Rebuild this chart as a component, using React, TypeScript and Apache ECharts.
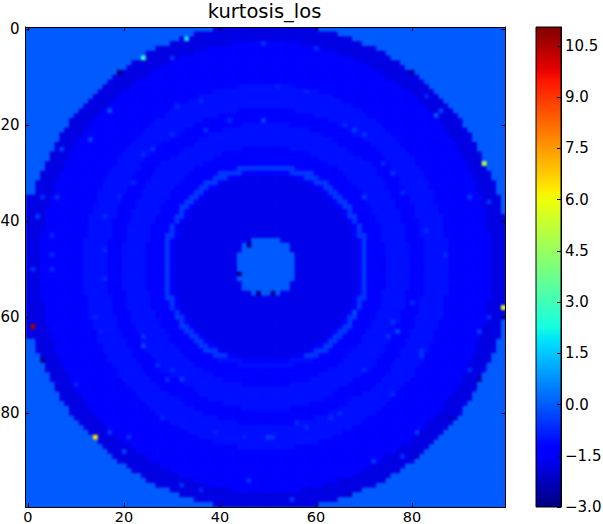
import React, { useEffect, useRef } from "react";
import * as echarts from "echarts";

const TITLE = "kurtosis_los";
const SIZE = 100;
const COLOR_MIN = -3;
const COLOR_MAX = 11.05;
const FONT = "DejaVu Sans";

// value of each letter in the rows below
const levels: Record<string, number> = { ".": 0, a: -1.8, b: -1.7, c: -1.35, d: -1.05, e: -0.5 };

// one run-length string per image row: letter + number of cells
const rows: string[] = [
  ".39a22.39", ".35a30.35", ".32a36.32", ".30a13c14a13.30", ".27a11c24a11.27",
  ".25a10c30a10.25", ".24a8c36a8.24", ".22a8c40a8.22", ".21a7c44a7.21", ".19a7c48a7.19",
  ".18a7c50a7.18", ".17a6c54a6.17", ".16a6c22d12c22a6.16", ".15a5c19d22c19a5.15", ".14a5c17d28c17a5.14",
  ".13a5c16d32c16a5.13", ".12a5c15d36c15a5.12", ".11a5c14d14c12d14c14a5.11", ".10a5c14d11c20d11c14a5.10", ".9a5c13d10c26d10c13a5.9",
  ".9a4c13d9c10d10c10d9c13a4.9", ".8a5c12d8c8d18c8d8c12a5.8", ".7a5c12d8c6d24c6d8c12a5.7", ".7a4c12d7c6d28c6d7c12a4.7", ".6a4c12d6c7d30c7d6c12a4.6",
  ".6a4c11d6c6d12c10d12c6d6c11a4.6", ".5a4c11d6c6d9c18d9c6d6c11a4.5", ".5a4c10d6c5d9c22d9c5d6c10a4.5", ".4a4c11d5c4d9c26d9c4d5c11a4.4", ".4a4c10d6c3d8c9e12c9d8c3d6c10a4.4",
  ".3a4c10d6c4d7c6e5c10e5c6d7c4d6c10a4.3", ".3a4c10d5c4d7c6e3c2b12c2e3c6d7c4d5c10a4.3", ".2a4c10d6c3d7c5e3c1b18c1e3c5d7c3d6c10a4.2", ".2a4c10d5c4d6c5e2c2b20c2e2c5d6c4d5c10a4.2", ".2a4c9d6c3d6c5e2c1b24c1e2c5d6c3d6c9a4.2",
  "a5c10d5c4d6c4e2c1b26c1e2c4d6c4d5c10a4.1", "a5c10d5c3d6c4e2c1b28c1e2c4d6c3d5c10a4.1", "a5c9d5c4d5c4e2c1b30c1e2c4d5c4d5c9a4.1", "a4c10d5c3d6c4e1c1b32c1e1c4d6c3d5c10a3.1", "a4c9d6c3d5c4e2c1b32c1e2c4d5c3d6c9a4",
  "a4c9d5c4d5c4e1c1b34c1e1c4d5c4d5c9a4", "a4c9d5c3d5c4e1c1b36c1e1c4d5c3d5c9a4", "a4c9d5c3d5c4e1c1b36c1e1c4d5c3d5c9a4", "a3c10d5c3d5c3e2c1b36c1e2c3d5c3d5c10a3", "a3c9d5c4d5c3e1c1b16.6b16c1e1c3d5c4d5c9a3",
  "a3c9d5c3d5c4e1c1b14.10b14c1e1c4d5c3d5c9a3", "a3c9d5c3d5c4e1c1b14.10b14c1e1c4d5c3d5c9a3", "a3c9d5c3d5c4e1c1b13.12b13c1e1c4d5c3d5c9a3", "a3c9d5c3d5c4e1c1b13.12b13c1e1c4d5c3d5c9a3", "a3c9d5c3d5c4e1c1b13.12b13c1e1c4d5c3d5c9a3",
  "a3c9d5c3d5c4e1c1b13.12b13c1e1c4d5c3d5c9a3", "a3c9d5c3d5c4e1c1b13.12b13c1e1c4d5c3d5c9a3", "a3c9d5c3d5c4e1c1b13.12b13c1e1c4d5c3d5c9a3", "a3c9d5c3d5c4e1c1b14.10b14c1e1c4d5c3d5c9a3", "a3c9d5c3d5c4e1c1b14.10b14c1e1c4d5c3d5c9a3",
  "a3c9d5c4d5c3e1c1b16.6b16c1e1c3d5c4d5c9a3", "a3c10d5c3d5c3e2c1b36c1e2c3d5c3d5c10a3", "a4c9d5c3d5c4e1c1b36c1e1c4d5c3d5c9a4", "a4c9d5c3d5c4e1c1b36c1e1c4d5c3d5c9a4", "a4c9d5c4d5c4e1c1b34c1e1c4d5c4d5c9a4",
  "a4c9d6c3d5c4e2c1b32c1e2c4d5c3d6c9a4", "a4c10d5c3d6c4e1c1b32c1e1c4d6c3d5c10a3.1", "a5c9d5c4d5c4e2c1b30c1e2c4d5c4d5c9a4.1", "a5c10d5c3d6c4e2c1b28c1e2c4d6c3d5c10a4.1", "a5c10d5c4d6c4e2c1b26c1e2c4d6c4d5c10a4.1",
  ".2a4c9d6c3d6c5e2c1b24c1e2c5d6c3d6c9a4.2", ".2a4c10d5c4d6c5e2c2b20c2e2c5d6c4d5c10a4.2", ".2a4c10d6c3d7c5e3c1b18c1e3c5d7c3d6c10a4.2", ".3a4c10d5c4d7c6e3c2b12c2e3c6d7c4d5c10a4.3", ".3a4c10d6c4d7c6d5c10d5c6d7c4d6c10a4.3",
  ".4a4c10d6c3d8c9d12c9d8c3d6c10a4.4", ".4a4c11d5c4d9c26d9c4d5c11a4.4", ".5a4c10d6c5d9c22d9c5d6c10a4.5", ".5a4c11d6c6d9c18d9c6d6c11a4.5", ".6a4c11d6c6d12c10d12c6d6c11a4.6",
  ".6a4c12d6c7d30c7d6c12a4.6", ".7a4c12d7c6d28c6d7c12a4.7", ".7a5c12d8c6d24c6d8c12a5.7", ".8a5c12d8c8d18c8d8c12a5.8", ".9a4c13d9c10d10c10d9c13a4.9",
  ".9a5c13d10c26d10c13a5.9", ".10a5c14d11c20d11c14a5.10", ".11a5c14d14c12d14c14a5.11", ".12a5c15d36c15a5.12", ".13a5c16d32c16a5.13",
  ".14a5c17d28c17a5.14", ".15a5c19d22c19a5.15", ".16a6c22d12c22a6.16", ".17a6c54a6.17", ".18a7c50a7.18",
  ".19a7c48a7.19", ".21a7c44a7.21", ".22a8c40a8.22", ".24a8c36a8.24", ".25a10c30a10.25",
  ".27a11c24a11.27", ".30a13c14a13.30", ".32a36.32", ".35a30.35", ".39a22.39",
];

// single cells that stand out: [column, row, value]
const spots: [number, number, number][] = [
  [1, 62, 10.5], [14, 85, 6.4], [99, 58, 5.8], [95, 28, 5], [24, 6, 2.8], [33, 2, 1.9],
  [19, 9, -3], [46, 45, -2.8], [44, 51, -2.8], [48, 55, -2.8], [51, 55, -2.8], [3, 69, -2.8],
  [80, 9, -2.5], [94, 73, -2.5], [88, 81, -2.3], [81, 89, -2.2], [67, 97, -2.2],
  [17, 17, -0.2], [13, 23, -0.4], [7, 25, -0.4], [2, 39, -0.5], [6, 35, -0.6], [3, 35, -0.7],
  [30, 6, -0.6], [49, 3, -0.6], [85, 18, -0.1], [86, 17, -0.4], [83, 14, -0.8], [92, 35, -0.5],
  [96, 36, -0.6], [60, 4, -0.7], [68, 21, -0.5], [70, 35, -0.4], [49, 19, -0.4], [20, 88, -0.4],
  [24, 66, -0.3], [32, 73, -0.5], [17, 84, -0.6], [21, 85, -0.6], [10, 74, -0.8], [32, 95, -0.6],
  [46, 94, -0.6], [94, 63, -0.5], [96, 60, -0.7], [92, 71, -0.7], [81, 84, -0.5], [78, 89, -0.7],
  [72, 90, -0.5], [55, 98, -0.6], [77, 63, -0.3], [68, 59, -0.2], [82, 68, -0.5], [50, 85, -0.4],
  [5, 43, -0.7], [5, 47, -0.7], [1, 50, -0.6], [5, 50, -0.7],
  [36, 15, -0.7], [31, 16, -0.7], [42, 19, -0.7], [37, 21, -0.7], [30, 22, -0.7], [26, 25, -0.6],
  [24, 26, -0.7], [16, 39, -0.7], [16, 46, -0.7], [22, 32, -0.8], [19, 35, -0.8], [66, 20, -0.7],
  [70, 22, -0.6], [76, 30, -0.6], [74, 28, -0.7], [78, 34, -0.7], [83, 42, -0.7], [52, 12, -0.8],
  [58, 13, -0.8], [87, 47, -0.7], [16, 52, -0.7], [14, 60, -0.8], [15, 63, -0.8], [24, 64, -0.6],
  [27, 70, -0.7], [29, 73, -0.7], [30, 71, -0.7], [39, 84, -0.8], [28, 81, -0.8], [45, 85, -0.8],
  [36, 96, -0.8], [75, 64, -0.6], [76, 61, -0.6], [80, 57, -0.7], [82, 67, -0.6], [70, 71, -0.7],
  [51, 85, -0.6], [56, 82, -0.7], [58, 83, -0.7], [65, 80, -0.7], [76, 76, -0.7], [63, 81, -0.7],
];

const axisLabels = Array.from({ length: SIZE }, (_, i) => String(i));

function decodeRow(text: string): number[] {
  const cells: number[] = [];
  for (const m of text.matchAll(/([.a-e])(\d+)/g)) {
    for (let i = 0; i < Number(m[2]); i++) cells.push(levels[m[1]]);
  }
  while (cells.length < SIZE) cells.push(0);
  return cells.slice(0, SIZE);
}

function buildCells(): [number, number, number][] {
  const grid = rows.map(decodeRow);
  for (const [x, y, v] of spots) grid[y][x] = v;
  const out: [number, number, number][] = [];
  grid.forEach((r, y) => r.forEach((v, x) => out.push([x, y, v])));
  return out;
}

function ramp(x: number, pts: [number, number][]): number {
  if (x <= pts[0][0]) return pts[0][1];
  for (let i = 1; i < pts.length; i++) {
    if (x <= pts[i][0]) {
      const [a, b] = pts[i - 1];
      const [c, d] = pts[i];
      return b + ((d - b) * (x - a)) / (c - a);
    }
  }
  return pts[pts.length - 1][1];
}

function jet(x: number): string {
  const r = ramp(x, [[0.35, 0], [0.66, 1], [0.89, 1], [1, 0.5]]);
  const g = ramp(x, [[0.125, 0], [0.375, 1], [0.64, 1], [0.91, 0]]);
  const b = ramp(x, [[0, 0.5], [0.11, 1], [0.34, 1], [0.65, 0]]);
  const h = (v: number) => Math.round(v * 255).toString(16).padStart(2, "0");
  return `#${h(r)}${h(g)}${h(b)}`;
}

const jetColors = Array.from({ length: 129 }, (_, i) => jet(i / 128));

export default function App() {
  const imageRef = useRef<HTMLDivElement>(null);
  const frameRef = useRef<HTMLDivElement>(null);
  useEffect(() => {
    document.body.style.margin = "0";
    // the image, softened by the page as the reference's interpolated image is
    const image = echarts.init(imageRef.current!, undefined, { renderer: "svg" });
    image.setOption({
      animation: false,
      grid: { left: 0, top: 0, width: 480, height: 480, outerBoundsMode: "none" },
      xAxis: { type: "category", data: axisLabels, show: false },
      yAxis: { type: "category", inverse: true, data: axisLabels, show: false },
      visualMap: { show: false, min: COLOR_MIN, max: COLOR_MAX, inRange: { color: jetColors } },
      series: [{ type: "heatmap", progressive: 0, data: buildCells(), silent: true, emphasis: { disabled: true } }],
    });

    const frame = echarts.init(frameRef.current!, undefined, { renderer: "svg" });
    const tickStyle = { show: true, inside: true, length: 4, alignWithLabel: true, lineStyle: { color: "#000", width: 1 } };
    const lineStyle = { show: true, onZero: false, lineStyle: { color: "#000", width: 1 } };
    const label = { color: "#000", fontFamily: FONT, fontSize: 15 };
    const every20 = (i: number) => i % 20 === 0;
    frame.setOption({
      animation: false,
      title: {
        text: TITLE,
        left: 264.5,
        top: 1,
        padding: 0,
        textAlign: "center",
        textStyle: { fontFamily: FONT, fontSize: 19.5, lineHeight: 20, fontWeight: "normal", color: "#000" },
      },
      grid: [
        { left: 25.5, top: 27, width: 480, height: 480, outerBoundsMode: "none" },
        {
          left: 536,
          top: 27,
          width: 25,
          height: 480,
          outerBoundsMode: "none",
          show: true,
          borderColor: "#000",
          borderWidth: 1,
          backgroundColor: new echarts.graphic.LinearGradient(
            0, 1, 0, 0,
            jetColors.map((color, i) => ({ offset: i / 128, color }))
          ),
        },
      ],
      xAxis: [
        {
          type: "category", gridIndex: 0, position: "bottom", data: axisLabels, axisLine: lineStyle,
          axisTick: { ...tickStyle, interval: every20 },
          axisLabel: { ...label, fontSize: 14.5, lineHeight: 13, interval: every20, margin: 3 },
          splitLine: { show: false },
        },
        {
          type: "category", gridIndex: 0, position: "top", data: axisLabels, axisLine: lineStyle,
          axisTick: { ...tickStyle, interval: every20 }, axisLabel: { show: false }, splitLine: { show: false },
        },
        { type: "category", gridIndex: 1, data: [""], show: false },
      ],
      yAxis: [
        {
          type: "category", gridIndex: 0, position: "left", inverse: true, data: axisLabels, axisLine: lineStyle,
          axisTick: { ...tickStyle, interval: every20 },
          axisLabel: { ...label, interval: every20, margin: 6 },
          splitLine: { show: false },
        },
        {
          type: "category", gridIndex: 0, position: "right", inverse: true, data: axisLabels, axisLine: lineStyle,
          axisTick: { ...tickStyle, interval: every20 }, axisLabel: { show: false }, splitLine: { show: false },
        },
        {
          type: "value", gridIndex: 1, position: "right", min: COLOR_MIN, max: COLOR_MAX, interval: 1.5,
          axisLine: lineStyle,
          axisTick: { show: true, inside: true, length: 4, lineStyle: { color: "#000", width: 1 } },
          axisLabel: {
            ...label,
            margin: 4,
            showMaxLabel: false,
            formatter: (v: number) => v.toFixed(1).replace("-", "\u2212"),
          },
          splitLine: { show: false },
        },
      ],
    });
    return () => {
      image.dispose();
      frame.dispose();
    };
  }, []);
  return (
    <div style={{ position: "absolute", left: 0, top: 0, width: 603, height: 524, background: "#fff" }}>
      <div style={{ position: "absolute", left: 25.5, top: 27, width: 480, height: 480, overflow: "hidden", background: "#005bff" }}>
        <div ref={imageRef} style={{ width: 480, height: 480, filter: "blur(1.2px)" }} />
      </div>
      <div ref={frameRef} style={{ position: "absolute", left: 0, top: 0, width: 603, height: 524 }} />
    </div>
  );
}
